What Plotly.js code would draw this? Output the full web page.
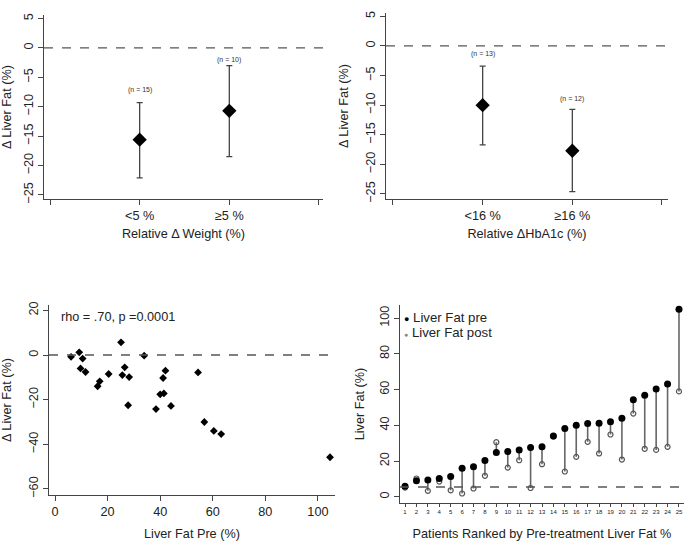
<!DOCTYPE html>
<html>
<head>
<meta charset="utf-8">
<script src="https://cdn.plot.ly/plotly-3.0.1.min.js"></script>
<style>html,body{margin:0;padding:0;background:#fff;}#chart{width:697px;height:554px;}</style>
</head>
<body>
<div id="chart"></div>
<script>
// ---- Panel A: Relative change in weight ----
const weightGroups = ['<5 %', '≥5 %'];
const weightMean = [-15.6, -10.7];
const weightUpper = [-9.3, -3.0];
const weightLower = [-22.1, -18.5];
const weightN = [15, 10];

// ---- Panel B: Relative change in HbA1c ----
const hba1cGroups = ['<16 %', '≥16 %'];
const hba1cMean = [-10.0, -17.7];
const hba1cUpper = [-3.4, -10.7];
const hba1cLower = [-16.7, -24.6];
const hba1cN = [13, 12];

// ---- Panel C: scatter of Liver Fat Pre vs change ----
const scatterPre = [6.1, 9.2, 10.5, 9.7, 11.6, 16.2, 17.0, 20.4, 25.1, 25.6, 26.5, 28.2, 27.8, 33.9, 38.4, 40.0, 41.4, 41.1, 42.0, 44.1, 54.4, 56.8, 60.4, 63.2, 104.6];
const scatterDelta = [-0.8, 1.2, -1.6, -6.0, -7.6, -14.0, -11.8, -8.5, 5.7, -9.0, -5.5, -9.9, -22.5, -0.3, -24.2, -17.6, -17.2, -10.3, -7.0, -22.8, -7.8, -30.0, -34.0, -35.4, -45.8];
const rhoText = 'rho = .70, p =0.0001';

// ---- Panel D: ranked patients pre/post ----
const patientRank = [1,2,3,4,5,6,7,8,9,10,11,12,13,14,15,16,17,18,19,20,21,22,23,24,25];
const liverFatPre = [6.0, 9.1, 9.5, 10.3, 11.4, 16.0, 16.8, 20.3, 24.8, 25.4, 26.3, 27.6, 28.0, 34.1, 38.2, 40.1, 41.0, 41.2, 42.0, 44.0, 54.3, 56.9, 60.4, 63.2, 104.9];
const liverFatPost = [5.2, 10.3, 3.4, 8.6, 3.7, 1.9, 4.7, 11.8, 30.6, 16.4, 20.5, 5.0, 18.3, 33.8, 14.2, 22.4, 30.8, 24.3, 34.9, 20.9, 46.6, 26.9, 26.3, 28.0, 59.0];
const fatThreshold = 5.5;
const legendLabels = ['Liver Fat pre', 'Liver Fat post'];

const W = 697, H = 554;
const px = v => v / W;
const py = v => 1 - v / H;
const FONT = 'Liberation Sans, Arial, sans-serif';
const TXT = '#222';
const FS = 12.7;

const traces = [];

function errTrace(groups, mean, upper, lower, xa, ya) {
  return {
    type: 'scatter', mode: 'markers', xaxis: xa, yaxis: ya, showlegend: false,
    x: groups.map((g, i) => i + 1), y: mean,
    marker: {symbol: 'diamond', size: 11, color: '#000'},
    error_y: {type: 'data', symmetric: false,
      array: upper.map((u, i) => u - mean[i]),
      arrayminus: lower.map((l, i) => mean[i] - l),
      color: '#444', thickness: 1.3, width: 3}
  };
}
traces.push(errTrace(weightGroups, weightMean, weightUpper, weightLower, 'x', 'y'));
traces.push(errTrace(hba1cGroups, hba1cMean, hba1cUpper, hba1cLower, 'x2', 'y2'));

traces.push({
  type: 'scatter', mode: 'markers', xaxis: 'x3', yaxis: 'y3', showlegend: false,
  x: scatterPre, y: scatterDelta,
  marker: {symbol: 'diamond', size: 6, color: '#000'}
});

// connecting segments
const segX = [], segY = [];
patientRank.forEach((r, i) => { segX.push(r, r, null); segY.push(liverFatPre[i], liverFatPost[i], null); });
traces.push({
  type: 'scatter', mode: 'lines', xaxis: 'x4', yaxis: 'y4', showlegend: false,
  x: segX, y: segY, line: {color: '#666', width: 1.6}, hoverinfo: 'skip'
});
traces.push({
  type: 'scatter', mode: 'markers', xaxis: 'x4', yaxis: 'y4', showlegend: false, name: legendLabels[1],
  x: patientRank, y: liverFatPost,
  marker: {symbol: 'circle-open', size: 5, color: '#555', line: {width: 1.2}}
});
traces.push({
  type: 'scatter', mode: 'markers', xaxis: 'x4', yaxis: 'y4', showlegend: false, name: legendLabels[0],
  x: patientRank, y: liverFatPre,
  marker: {symbol: 'circle', size: 7, color: '#000'}
});

const baseAxis = {
  showgrid: false, zeroline: false, showline: true, linecolor: '#444', linewidth: 1,
  ticks: 'outside', ticklen: 5, tickcolor: '#444',
  tickfont: {family: FONT, size: FS, color: TXT}
};
const yAxisBase = Object.assign({}, baseAxis, {tickangle: -90});

function catTicks(groups) { return ['', ...groups, '']; }

const nShiftW = [13, 6];
const nShiftH = [12, 10];

const layout = {
  width: W, height: H,
  margin: {l: 0, r: 0, t: 0, b: 0},
  paper_bgcolor: '#fff', plot_bgcolor: '#fff',
  font: {family: FONT, color: TXT},
  showlegend: false,
  xaxis: Object.assign({}, baseAxis, {domain: [px(44), px(323)], anchor: 'y',
    range: [-0.067, 3.045], tickvals: [0, 1, 2, 3], ticktext: catTicks(weightGroups),
    title: {text: 'Relative Δ Weight (%)', font: {size: FS}, standoff: 6}}),
  yaxis: Object.assign({}, yAxisBase, {domain: [py(199), py(15)], anchor: 'x',
    range: [-25.7, 5.6], tickvals: [-25, -20, -15, -10, -5, 0, 5],
    title: {text: 'Δ Liver Fat (%)', font: {size: FS}, standoff: 12}}),
  xaxis2: Object.assign({}, baseAxis, {domain: [px(386), px(668)], anchor: 'y2',
    range: [-0.078, 3.067], tickvals: [0, 1, 2, 3], ticktext: catTicks(hba1cGroups),
    title: {text: 'Relative ΔHbA1c (%)', font: {size: FS}, standoff: 6}}),
  yaxis2: Object.assign({}, yAxisBase, {domain: [py(199), py(13)], anchor: 'x2',
    range: [-25.85, 5.57], tickvals: [-25, -20, -15, -10, -5, 0, 5],
    title: {text: 'Δ Liver Fat (%)', font: {size: FS}, standoff: 12}}),
  xaxis3: Object.assign({}, baseAxis, {domain: [px(49), px(335)], anchor: 'y3',
    range: [-2.3, 106.5], tickvals: [0, 20, 40, 60, 80, 100],
    title: {text: 'Liver Fat Pre (%)', font: {size: FS}, standoff: 10}}),
  yaxis3: Object.assign({}, yAxisBase, {domain: [py(495), py(305)], anchor: 'x3',
    range: [-62.7, 22.4], tickvals: [-60, -40, -20, 0, 20],
    title: {text: 'Δ Liver Fat (%)', font: {size: FS}, standoff: 14}}),
  xaxis4: Object.assign({}, baseAxis, {domain: [px(400), px(684)], anchor: 'y4',
    range: [0.56, 25.44], tickvals: patientRank, ticklen: 3,
    tickfont: {family: FONT, size: 6, color: TXT},
    title: {text: 'Patients Ranked by Pre-treatment Liver Fat %', font: {size: FS}, standoff: 14}}),
  yaxis4: Object.assign({}, yAxisBase, {domain: [py(503), py(305)], anchor: 'x4',
    range: [-3.4, 107.3], tickvals: [0, 20, 40, 60, 80, 100],
    title: {text: 'Liver Fat (%)', font: {size: FS}, standoff: 10}}),
  shapes: [
    {type: 'line', xref: 'x domain', yref: 'y', x0: 0, x1: 1, y0: 0, y1: 0, line: {color: '#555', width: 1.2, dash: 'dash'}},
    {type: 'line', xref: 'x2 domain', yref: 'y2', x0: 0, x1: 1, y0: 0, y1: 0, line: {color: '#555', width: 1.2, dash: 'dash'}},
    {type: 'line', xref: 'x3 domain', yref: 'y3', x0: 0, x1: 1, y0: 0, y1: 0, line: {color: '#555', width: 1.5, dash: 'dash'}},
    {type: 'line', xref: 'x4 domain', yref: 'y4', x0: 0, x1: 1, y0: fatThreshold, y1: fatThreshold, line: {color: '#555', width: 1.5, dash: 'dash'}}
  ],
  annotations: [
    ...weightN.map((n, i) => ({xref: 'x', yref: 'y', x: i + 1, y: weightUpper[i], yshift: nShiftW[i],
      text: '(n = ' + n + ')', showarrow: false, font: {family: FONT, size: 7, color: '#333'}})),
    ...hba1cN.map((n, i) => ({xref: 'x2', yref: 'y2', x: i + 1, y: hba1cUpper[i], yshift: nShiftH[i],
      text: '(n = ' + n + ')', showarrow: false, font: {family: FONT, size: 7, color: '#333'}})),
    {xref: 'paper', yref: 'paper', x: px(59), y: py(317), xanchor: 'left', yanchor: 'middle',
      text: rhoText, showarrow: false, font: {family: FONT, size: FS, color: TXT}},
    {xref: 'paper', yref: 'paper', x: px(402), y: py(317), xanchor: 'left', yanchor: 'middle',
      text: '<span style="font-size:9px;color:#000">●</span> ' + legendLabels[0], showarrow: false,
      font: {family: FONT, size: FS + 0.5, color: TXT}},
    {xref: 'paper', yref: 'paper', x: px(402), y: py(332), xanchor: 'left', yanchor: 'middle',
      text: '<span style="font-size:7px;color:#888">●</span> ' + legendLabels[1], showarrow: false,
      font: {family: FONT, size: FS + 0.5, color: TXT}}
  ]
};

Plotly.newPlot('chart', traces, layout, {displayModeBar: false, staticPlot: true});
</script>
</body>
</html>
